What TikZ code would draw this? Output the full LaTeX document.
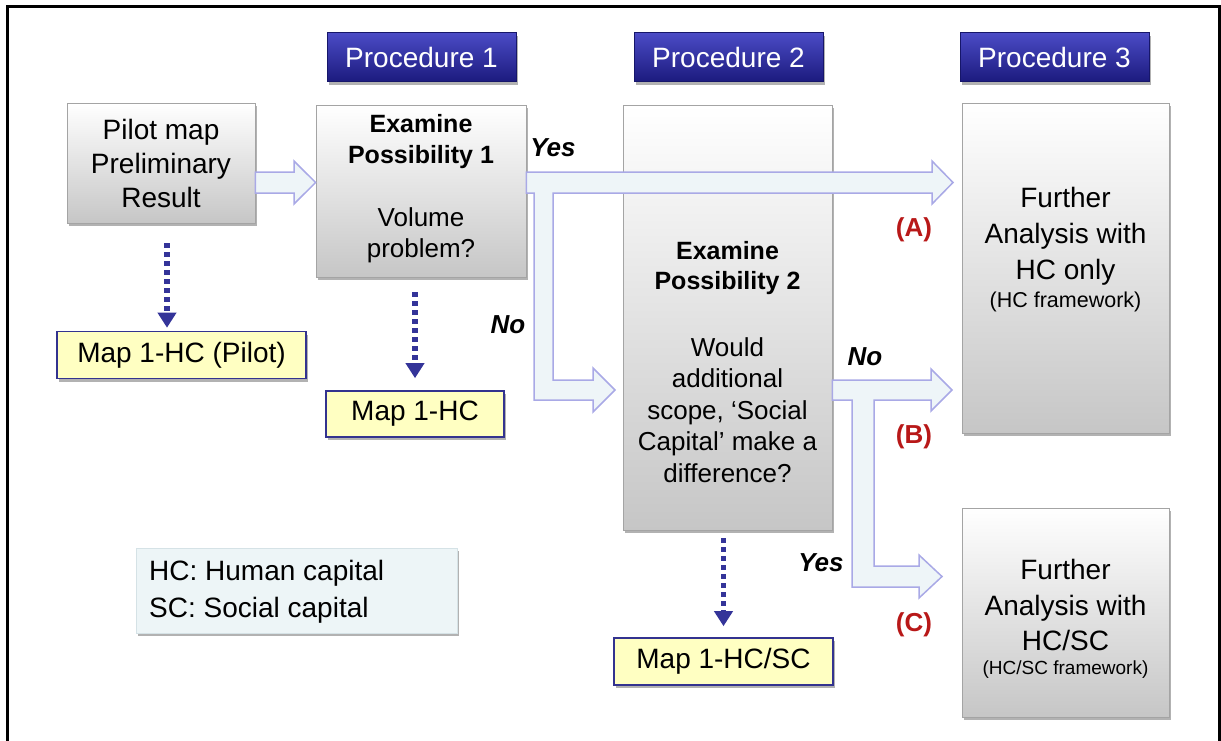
\documentclass[tikz,border=0pt]{standalone}
\usepackage{fontspec}
\setmainfont{Liberation Sans}
\usetikzlibrary{shadows,arrows.meta}
\definecolor{hdtop}{HTML}{4B4BC6}
\definecolor{hdmid}{HTML}{2A26A8}
\definecolor{hdbot}{HTML}{1C1A7E}
\definecolor{hdline}{HTML}{16166A}
\definecolor{boxline}{HTML}{A4A4A4}
\definecolor{boxbot}{HTML}{C6C6C6}
\definecolor{arrfill}{HTML}{EEF5F8}
\definecolor{arrline}{HTML}{A9A9E6}
\definecolor{mapfill}{HTML}{FFFFC2}
\definecolor{mapline}{HTML}{33338F}
\definecolor{dotblue}{HTML}{343499}
\definecolor{keyfill}{HTML}{EDF5F7}
\definecolor{keyline}{HTML}{D5E2E6}
\definecolor{tagred}{HTML}{B81818}
\newcommand\fsz[2]{\fontsize{#1}{#2}\selectfont}

\begin{document}
\begin{tikzpicture}[x=1pt,y=-1pt,
  shadowed/.style={drop shadow={shadow xshift=2pt,shadow yshift=-3pt,opacity=0.3,fill=black}},
  header/.style={shadowed, draw=hdline, line width=0.6pt, top color=hdtop, middle color=hdmid,
    bottom color=hdbot, text=white, font=\fsz{28}{32}, minimum width=189pt, minimum height=49pt,
    inner sep=0pt},
  stepbox/.style={shadowed, draw=boxline, line width=0.8pt, top color=white, bottom color=boxbot, inner sep=0pt},
  boxtext/.style={align=center, inner sep=0pt},
  mapbox/.style={shadowed, draw=mapline, line width=1.6pt, fill=mapfill, font=\fsz{28}{32},
    inner sep=0pt, minimum height=47pt},
  dotarrow/.style={draw=dotblue, line width=5.5pt, dash pattern=on 5pt off 4pt,
    -{Triangle[width=18pt,length=15pt]}},
  blockarrow/.style={draw=arrline, line width=1.5pt, fill=arrfill, line join=miter},
  answer/.style={font=\fsz{26}{30}\bfseries\itshape, inner sep=0pt},
  tag/.style={font=\fsz{26}{30}\bfseries, text=tagred, inner sep=0pt}
]
\useasboundingbox (0,0) rectangle (1221,740);
\clip (0,0) rectangle (1221,740);

% outer frame
\draw[line width=3pt] (7.5,6.5) rectangle (1219.5,800);

% column headers
\node[header] (proc1) at (421.5,57) {Procedure 1};
\node[header] (proc2) at (728.5,57) {Procedure 2};
\node[header] (proc3) at (1054.5,57) {Procedure 3};

% process steps
\node[stepbox, minimum width=188pt, minimum height=120pt, align=center, font=\fsz{28}{34}]
  (pilot) at (161,163) {Pilot map\\Preliminary\\Result};

\node[stepbox, minimum width=210pt, minimum height=172pt] (ex1) at (421,191) {};
\node[boxtext, font=\fsz{25}{31}\bfseries] (ex1title) at (421,141.5) {Examine\\Possibility 1};
\node[boxtext, font=\fsz{26}{31}] (ex1q) at (421,235.5) {Volume\\problem?};

\node[stepbox, minimum width=209pt, minimum height=425pt] (ex2) at (727.5,317.5) {};
\node[boxtext, font=\fsz{25}{30}\bfseries] (ex2title) at (727.5,268) {Examine\\Possibility 2};
\node[boxtext, font=\fsz{26}{31.5}] (ex2q) at (727.5,410)
  {Would\\additional\\scope, ‘Social\\Capital’ make a\\difference?};

\node[stepbox, minimum width=207pt, minimum height=330pt] (fa1) at (1065.5,268) {};
\node[boxtext, font=\fsz{28}{36}] (fa1t) at (1065.5,236) {Further\\Analysis with\\HC only};
\node[boxtext, font=\fsz{21.5}{24}] (fa1f) at (1065.5,302) {(HC framework)};

\node[stepbox, minimum width=207pt, minimum height=209pt] (fa2) at (1065.5,612.5) {};
\node[boxtext, font=\fsz{28}{35.5}] (fa2t) at (1065.5,605) {Further\\Analysis with\\HC/SC};
\node[boxtext, font=\fsz{19}{22}] (fa2f) at (1065.5,670) {(HC/SC framework)};

% resulting maps
\node[mapbox, minimum width=249pt] (map0) at (181.5,355) {Map 1-HC (Pilot)};
\node[mapbox, minimum width=178pt, minimum height=46pt] (map1) at (415,414) {Map 1-HC};
\node[mapbox, minimum width=219pt] (map2) at (723.5,661.5) {Map 1-HC/SC};

% abbreviations
\node[shadowed, draw=keyline, fill=keyfill, minimum width=321pt, minimum height=85pt, inner sep=0pt]
  (key) at (296.5,590.5) {};
\node[anchor=west, align=left, font=\fsz{28}{37}, inner sep=0pt] (keyt) at (149,591.5)
  {HC: Human capital\\SC: Social capital};

% dotted arrows to the maps
\coordinate (d0) at (167,243);
\draw[dotarrow, shorten >=3pt] (d0) -- (d0 |- map0.north);
\coordinate (d1) at (415,292);
\draw[dotarrow, shorten >=12pt] (d1) -- (map1.north);
\coordinate (d2) at (723.5,538);
\draw[dotarrow, shorten >=11pt] (d2) -- (map2.north);

% block arrows
\draw[blockarrow] (pilot.east |- 0,172) -- (294,172) -- (294,161) -- (ex1.west |- 0,182.5)
  -- (294,204) -- (294,193) -- (pilot.east |- 0,193) -- cycle;

\draw[blockarrow] (ex1.east |- 0,172) -- (932,172) -- (932,161) -- (953,182.5) -- (932,204)
  -- (932,193) -- (553,193) -- (553,380) -- (593,380) -- (593,368) -- (615,390) -- (593,412)
  -- (593,400) -- (534,400) -- (534,193) -- (ex1.east |- 0,193) -- cycle;

\draw[blockarrow] (ex2.east |- 0,380) -- (931,380) -- (931,369) -- (952,390) -- (931,411)
  -- (931,400) -- (874,400) -- (874,566) -- (919,566) -- (919,555) -- (942,576.5) -- (919,598)
  -- (919,587) -- (852,587) -- (852,400) -- (ex2.east |- 0,400) -- cycle;

% branch labels
\node[answer] (yes1) at (553,148) {Yes};
\node[answer] (no1) at (508,325) {No};
\node[answer] (no2) at (865,357) {No};
\node[answer] (yes2) at (821,563) {Yes};
\node[tag] (tagA) at (914,230) {(A)};
\node[tag] (tagB) at (914,437) {(B)};
\node[tag] (tagC) at (914,625) {(C)};
\end{tikzpicture}
\end{document}
